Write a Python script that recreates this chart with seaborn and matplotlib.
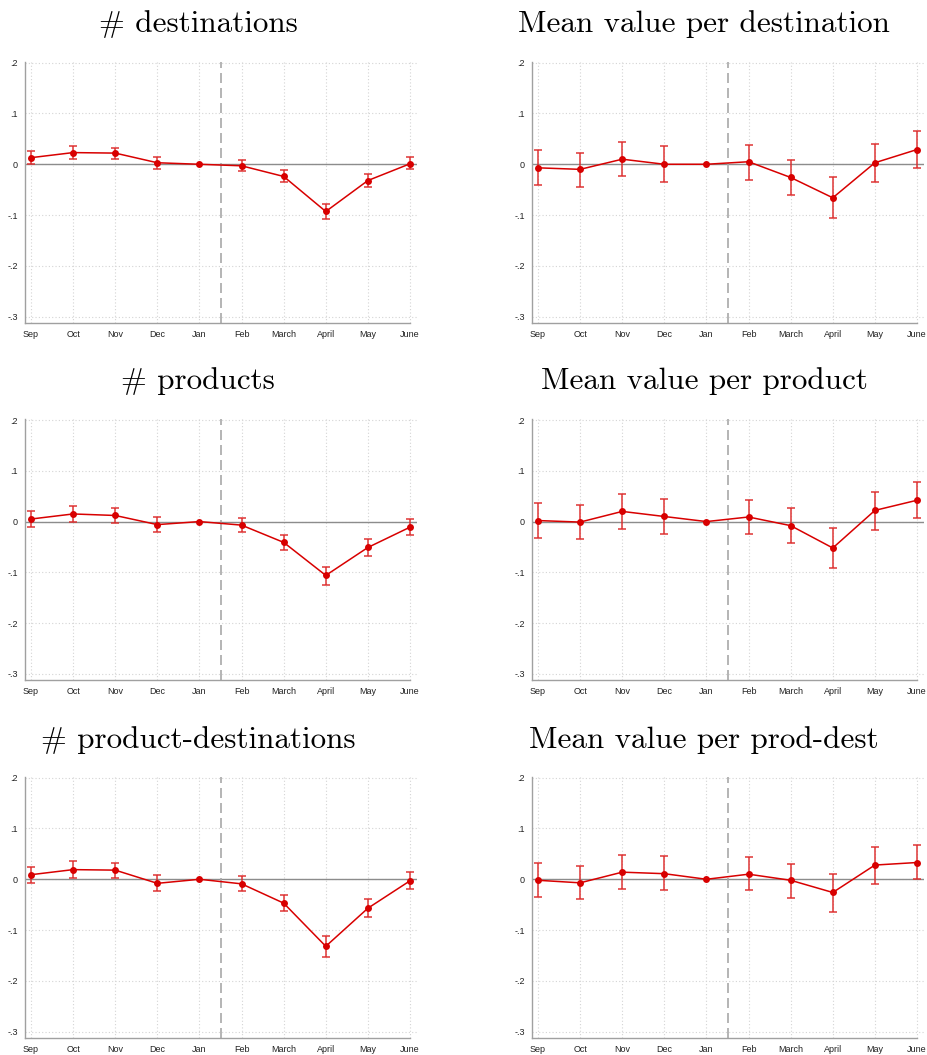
import numpy as np
import pandas as pd
import matplotlib
matplotlib.use("Agg")
import matplotlib.pyplot as plt
import seaborn as sns

# Month labels along the horizontal axis
months = ["Sep", "Oct", "Nov", "Dec", "Jan", "Feb", "March", "April", "May", "June"]

# Point estimates and 95% confidence bounds (Jan is the reference month)
dest_coef = [0.013, 0.023, 0.022, 0.003, 0.0, -0.003, -0.024, -0.093, -0.032, 0.001]
dest_lo = [0.001, 0.010, 0.010, -0.009, np.nan, -0.014, -0.035, -0.108, -0.045, -0.010]
dest_hi = [0.026, 0.035, 0.033, 0.014, np.nan, 0.008, -0.012, -0.078, -0.020, 0.014]

mvdest_coef = [-0.007, -0.010, 0.010, 0.000, 0.0, 0.005, -0.026, -0.066, 0.003, 0.029]
mvdest_lo = [-0.041, -0.044, -0.024, -0.034, np.nan, -0.030, -0.061, -0.106, -0.035, -0.007]
mvdest_hi = [0.029, 0.023, 0.043, 0.035, np.nan, 0.038, 0.009, -0.026, 0.039, 0.065]

prod_coef = [0.005, 0.015, 0.012, -0.006, 0.0, -0.007, -0.041, -0.106, -0.051, -0.011]
prod_lo = [-0.010, 0.000, -0.003, -0.020, np.nan, -0.021, -0.056, -0.124, -0.067, -0.026]
prod_hi = [0.020, 0.030, 0.026, 0.009, np.nan, 0.007, -0.026, -0.089, -0.035, 0.005]

mvprod_coef = [0.002, -0.001, 0.020, 0.010, 0.0, 0.009, -0.008, -0.052, 0.022, 0.042]
mvprod_lo = [-0.033, -0.035, -0.014, -0.025, np.nan, -0.024, -0.043, -0.091, -0.016, 0.007]
mvprod_hi = [0.037, 0.033, 0.054, 0.044, np.nan, 0.043, 0.027, -0.012, 0.058, 0.078]

pd_coef = [0.009, 0.019, 0.018, -0.008, 0.0, -0.009, -0.047, -0.132, -0.057, -0.003]
pd_lo = [-0.008, 0.003, 0.002, -0.024, np.nan, -0.023, -0.063, -0.153, -0.075, -0.020]
pd_hi = [0.025, 0.035, 0.033, 0.008, np.nan, 0.006, -0.031, -0.112, -0.039, 0.014]

mvpd_coef = [-0.002, -0.007, 0.014, 0.011, 0.0, 0.010, -0.002, -0.026, 0.028, 0.033]
mvpd_lo = [-0.035, -0.039, -0.019, -0.022, np.nan, -0.022, -0.036, -0.064, -0.009, 0.000]
mvpd_hi = [0.032, 0.027, 0.047, 0.045, np.nan, 0.043, 0.031, 0.011, 0.063, 0.068]

titles = [
    "# destinations", "Mean value per destination",
    "# products", "Mean value per product",
    "# product-destinations", "Mean value per prod-dest",
]
series = [
    (dest_coef, dest_lo, dest_hi), (mvdest_coef, mvdest_lo, mvdest_hi),
    (prod_coef, prod_lo, prod_hi), (mvprod_coef, mvprod_lo, mvprod_hi),
    (pd_coef, pd_lo, pd_hi), (mvpd_coef, mvpd_lo, mvpd_hi),
]

yticks = [0.2, 0.1, 0.0, -0.1, -0.2, -0.3]
ytick_labels = [".2", ".1", "0", "-.1", "-.2", "-.3"]

sns.set_style("white")
plt.rcParams["font.family"] = ["Liberation Sans", "DejaVu Sans"]

W, H = 928, 1055
fig = plt.figure(figsize=(W / 100, H / 100), dpi=100)

RED = "#d80000"
CI_RED = "#dd2a2a"
GRID = "#d4d4d4"
AXCOL = "#a0a0a0"

# Pixel layout of the panels: column left edges and row top/bottom edges
col_left = [25, 532]
ax_w = 392
row_top = [61.7, 419.0, 776.7]
ax_h = 261.0
title_x = [198, 704]
title_y = [24, 381, 740]

x = np.arange(len(months))

for i, (title, (coef, lo, hi)) in enumerate(zip(titles, series)):
    r, c = divmod(i, 2)
    left = col_left[c] / W
    bottom = 1 - (row_top[r] + ax_h) / H
    ax = fig.add_axes([left, bottom, ax_w / W, ax_h / H])

    coef = np.asarray(coef, float)
    lo = np.asarray(lo, float)
    hi = np.asarray(hi, float)

    # grid
    for yv in yticks:
        ax.axhline(yv, color=GRID, lw=0.8, ls=(0, (1, 2)), zorder=0)
    for xv in x:
        ax.axvline(xv, color=GRID, lw=0.8, ls=(0, (1, 2)), zorder=0)

    ax.axhline(0, color="#8c8c8c", lw=1.0, zorder=1)
    ax.axvline(4.5, color="#a8a8a8", lw=1.2, ls=(0, (6, 3)), zorder=1)

    ok = ~np.isnan(lo)
    ax.errorbar(x[ok], coef[ok], yerr=[coef[ok] - lo[ok], hi[ok] - coef[ok]],
                fmt="none", ecolor=CI_RED, elinewidth=1.3, capsize=2.6,
                capthick=1.3, alpha=0.8, zorder=2)

    df = pd.DataFrame({"pos": x, "coef": coef})
    sns.lineplot(data=df, x="pos", y="coef", ax=ax, color=RED, lw=1.1,
                 marker="o", markersize=5, markeredgewidth=0, zorder=3)

    ax.set_xlim(-0.1425, 9.166)
    ax.set_ylim(-0.312, 0.202)
    ax.set_xticks(x)
    ax.set_xticklabels(months)
    ax.set_yticks(yticks)
    ax.set_yticklabels(ytick_labels)
    ax.set_xlabel("")
    ax.set_ylabel("")
    ax.tick_params(axis="both", labelsize=6.5, colors="#222222", length=3,
                   width=0.8, pad=2)
    ax.tick_params(axis="x", color=AXCOL)
    ax.tick_params(axis="y", color=AXCOL)

    for side in ["top", "right"]:
        ax.spines[side].set_visible(False)
    for side in ["left", "bottom"]:
        ax.spines[side].set_color(AXCOL)
        ax.spines[side].set_linewidth(1.0)
    ax.spines["bottom"].set_bounds(-0.1425, 9)

    fig.text(title_x[c] / W, 1 - title_y[r] / H, title, ha="center", va="center",
             fontsize=22.4, color="black", family=["cmr10", "DejaVu Serif"])

fig.savefig("out.png", dpi=100, facecolor="white")
